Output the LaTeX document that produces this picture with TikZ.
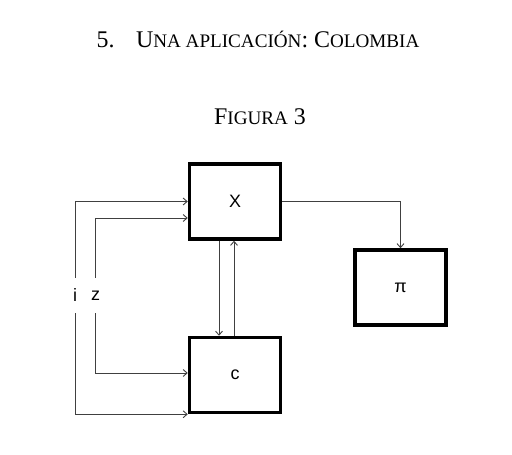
\documentclass[tikz,border=0pt]{standalone}
\usepackage{fontspec}
\setmainfont{Liberation Serif}
\newfontfamily\labelfont{Liberation Sans}
\usetikzlibrary{arrows.meta,calc}

\begin{document}
\begin{tikzpicture}[x=1bp,y=-1bp,
    block/.style={draw,line width=3.5bp,minimum width=91bp,minimum height=75bp,
      inner sep=0pt,font=\labelfont\fontsize{18}{18}\selectfont},
    var/.style={inner sep=0pt,minimum height=35bp,font=\labelfont\fontsize{18}{18}\selectfont},
    link/.style={draw=black!75,line width=0.9bp,-{Straight Barb[length=4bp,width=7bp]}}]
    \useasboundingbox (0,0) rectangle (512,455);
    \node[anchor=base,font=\fontsize{24}{24}\selectfont] (title) at (258,48)
      {5.\hspace{0.9em}U{\fontsize{19.2}{19}\selectfont NA APLICACIÓN}: C{\fontsize{19.2}{19}\selectfont OLOMBIA}};
    \node[anchor=base,font=\fontsize{24}{24}\selectfont] (fig) at (260,125)
      {F{\fontsize{19.2}{19}\selectfont IGURA} 3};
    \node[block] (X) at (235,201.5) {\raisebox{-3bp}{X}};
    \node[block] (c) at (235,375) {\raisebox{-4bp}{c}};
    \node[block] (pi) at (400.5,287.5) {\raisebox{-4bp}{π}};
    \node[var] (i) at (75,295.5) {i};
    \node[var] (z) at (95.5,295.5) {z};
    \draw[link] (i) |- (X.west);
    \draw[link] (i) |- (c.south west);
    \draw[link] (z) |- ($(X.west)+(0,16.5)$);
    \draw[link] (z) |- ($(c.west)+(0,-2)$);
    \draw[link] ([xshift=-16bp]X.south) -- ([xshift=-16bp]c.north);
    \draw[link] ([xshift=-1bp]c.north) -- ([xshift=-1bp]X.south);
    \draw[link] (X.east) -| (pi.north);
  \end{tikzpicture}
\end{document}
